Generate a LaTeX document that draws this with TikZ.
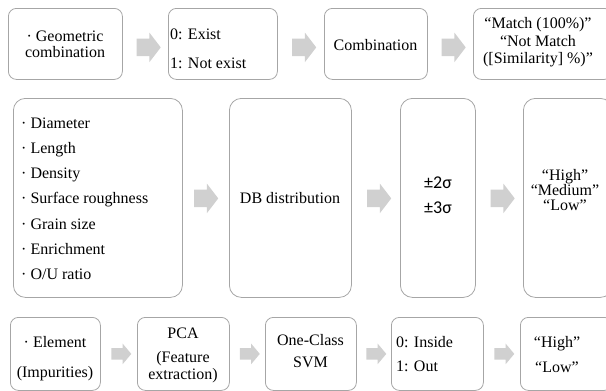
\documentclass[tikz,border=0pt]{standalone}
\usepackage{fontspec}
\setmainfont{Liberation Serif}
\newfontfamily\sgfont{Carlito}
\usetikzlibrary{shapes.arrows,calc}
\definecolor{boxline}{HTML}{A6A6A6}
\definecolor{arrowgrey}{HTML}{D0D0D0}
\begin{document}
\begin{tikzpicture}[x=1pt,y=-1pt,
  box/.style={draw=boxline, line width=0.8pt, rounded corners=8pt, inner sep=0pt, anchor=north west},
  bigbox/.style={box, rounded corners=12pt},
  txt/.style={inner sep=0pt, font=\fontsize{16}{19}\selectfont, anchor=base},
  ltxt/.style={txt, anchor=base west},
  sgtxt/.style={txt, font=\sgfont\fontsize{18}{21}\selectfont},
  barrow/.style={single arrow, fill=arrowgrey, draw=none, inner sep=0pt, inner ysep=8.5pt,
    minimum height=24pt, single arrow head extend=6pt, single arrow tip angle=105},
  sarrow/.style={single arrow, fill=arrowgrey, draw=none, inner sep=0pt, inner ysep=5.5pt,
    minimum height=20pt, single arrow head extend=4.5pt, single arrow tip angle=100}]
\clip (0,0) rectangle (606,391);
% row 1
\node[box, minimum width=114pt, minimum height=71pt] (A1) at (8,8) {};
\node[box, minimum width=109pt, minimum height=71pt] (A2) at (168,8) {};
\node[box, minimum width=103pt, minimum height=71pt] (A3) at (324,8) {};
\node[box, minimum width=139pt, minimum height=71pt] (A4) at (473,8) {};
\node[txt] (A1a) at (65,41) {· Geometric};
\node[txt] (A1b) at (65,57) {combination};
\node[ltxt] (A2a) at (170,39) {0: Exist};
\node[ltxt] (A2b) at (170,68) {1: Not exist};
\node[txt] (A3a) at (375.5,50) {Combination};
\node[txt] (A4a) at (538,28) {“Match (100\%)”};
\node[txt] (A4b) at (538,46) {“Not Match};
\node[txt] (A4c) at (538,63) {([Similarity] \%)”};
\node[barrow] (a1) at ($(A1.east)!0.5!(A2.west)+(0,3.5)$) {};
\node[barrow] (a2) at ($(A2.east)!0.5!(A3.west)+(0,3.5)$) {};
\node[barrow] (a3) at ($(A3.east)!0.5!(A4.west)+(0,3.5)$) {};
% row 2
\node[bigbox, minimum width=169pt, minimum height=199pt] (B1) at (13,98) {};
\node[bigbox, minimum width=122pt, minimum height=199pt] (B2) at (229,98) {};
\node[bigbox, minimum width=75pt, minimum height=199pt] (B3) at (400,98) {};
\node[bigbox, minimum width=89pt, minimum height=199pt] (B4) at (523,98) {};
\node[ltxt] (B1a) at (21,128) {· Diameter};
\node[ltxt] (B1b) at (21,153.3) {· Length};
\node[ltxt] (B1c) at (21,178.6) {· Density};
\node[ltxt] (B1d) at (21,203.9) {· Surface roughness};
\node[ltxt] (B1e) at (21,229.2) {· Grain size};
\node[ltxt] (B1f) at (21,254.5) {· Enrichment};
\node[ltxt] (B1g) at (21,279.8) {· O/U ratio};
\node[txt] (B2a) at (290,203) {DB distribution};
\node[sgtxt] (B3a) at (438,188) {±2σ};
\node[sgtxt] (B3b) at (438,213) {±3σ};
\node[txt] (B4a) at (565,180) {“High”};
\node[txt] (B4b) at (565,195) {“Medium”};
\node[txt] (B4c) at (565,210) {“Low”};
\node[barrow] (b1) at ($(B1.east)!0.5!(B2.west)+(-3,0.5)$) {};
\node[barrow] (b2) at ($(B2.east)!0.5!(B3.west)+(0,0.5)$) {};
\node[barrow] (b3) at ($(B3.east)!0.5!(B4.west)+(0,0.5)$) {};
% row 3
\node[box, minimum width=90pt, minimum height=73pt] (C1) at (10,317) {};
\node[box, minimum width=92pt, minimum height=73pt] (C2) at (137,317) {};
\node[box, minimum width=91pt, minimum height=73pt] (C3) at (265,317) {};
\node[box, minimum width=92pt, minimum height=73pt] (C4) at (391,317) {};
\node[box, minimum width=92pt, minimum height=73pt] (C5) at (520,317) {};
\node[txt] (C1a) at (55,347) {· Element};
\node[txt] (C1b) at (55,377) {(Impurities)};
\node[txt] (C2a) at (183,338) {PCA};
\node[txt] (C2b) at (183,362) {(Feature};
\node[txt] (C2c) at (183,379) {extraction)};
\node[txt] (C3a) at (310.5,345) {One-Class};
\node[txt] (C3b) at (310.5,367) {SVM};
\node[ltxt] (C4a) at (396,347) {0: Inside};
\node[ltxt] (C4b) at (396,371) {1: Out};
\node[txt] (C5a) at (557,347) {“High”};
\node[txt] (C5b) at (557,372) {“Low”};
\node[sarrow] (c1) at ($(C1.east)!0.5!(C2.west)$) {};
\node[sarrow] (c2) at ($(C2.east)!0.5!(C3.west)$) {};
\node[sarrow] (c3) at ($(C3.east)!0.5!(C4.west)$) {};
\node[sarrow] (c4) at ($(C4.east)!0.5!(C5.west)$) {};
\end{tikzpicture}
\end{document}
